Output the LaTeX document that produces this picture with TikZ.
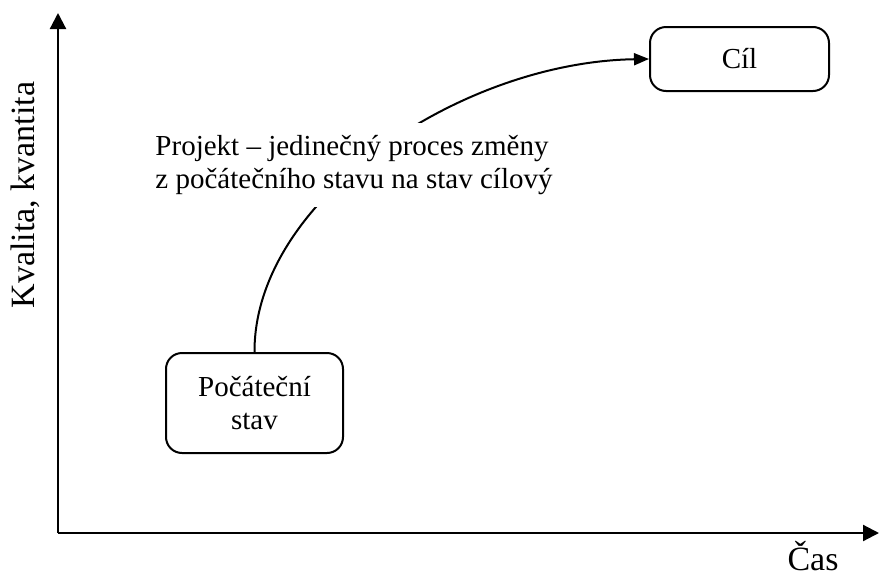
\documentclass[tikz,border=0pt]{standalone}
\usepackage{fontspec}
\setmainfont{Liberation Serif}
\usetikzlibrary{arrows.meta}

\begin{document}
\begin{tikzpicture}[x=1pt, y=-1pt, font=\fontsize{29}{33.5}\selectfont]
\tikzstyle{stav} = [rectangle, rounded corners=16pt, draw=black, line width=2pt, text centered, align=center]
\tikzstyle{osa} = [line width=2.2pt, -{Triangle[length=16pt, width=16pt]}]
\tikzstyle{popisosy} = [font=\fontsize{34}{40}\selectfont, inner sep=0pt]
\useasboundingbox (0,0) rectangle (879,579);

\coordinate (O) at (58,533);
\coordinate (ytop) at (58,13);
\coordinate (xend) at (879,533);
\draw [osa] (O) -- (ytop);
\draw [osa] (O) -- (xend);
\node (cas) [popisosy, anchor=base] at (813,570) {Čas};
\node (kvalita) [popisosy, rotate=90] at (25,195) {Kvalita, kvantita};

\node (pocatek) [stav, minimum width=177pt, minimum height=100pt] at (254.5,403) {Počáteční\\stav};
\node (cil) [stav, minimum width=179pt, minimum height=64pt] at (739.5,59) {Cíl};

\draw [line width=2pt, -{Triangle[length=15pt, width=12pt]}] (pocatek.north) .. controls (254,200) and (460,62) .. (cil.west);
\node (projekt) [fill=white, align=left, inner ysep=12pt] at (354,165) {Projekt – jedinečný proces změny\\z počátečního stavu na stav cílový};

\end{tikzpicture}
\end{document}
